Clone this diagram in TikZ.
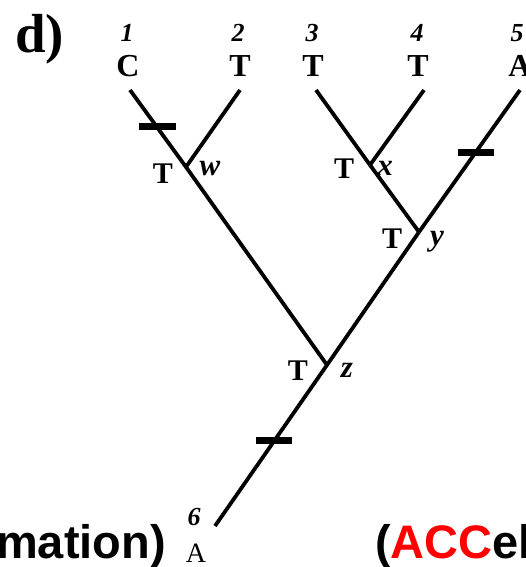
\documentclass[tikz,border=0pt]{standalone}
\usepackage{fontspec}
\setmainfont{Liberation Serif}
\newfontfamily\slidefont{Liberation Sans}
\usepackage{xcolor}
\usetikzlibrary{calc}

\begin{document}
\begin{tikzpicture}[x=1pt,y=-1pt,
	branch/.style={line width=3.8pt},
	tickbar/.style={line width=7pt},
	leafnum/.style={anchor=base,inner sep=0pt,font=\fontsize{26}{26}\selectfont\itshape\bfseries},
	leafstate/.style={anchor=base,inner sep=0pt,font=\fontsize{32}{32}\selectfont\bfseries},
	nodestate/.style={anchor=base,inner sep=0pt,font=\fontsize{30}{30}\selectfont\bfseries},
	nodename/.style={anchor=base,inner sep=0pt,font=\fontsize{31}{31}\selectfont\itshape\bfseries}]
	\clip (0,0) rectangle (526,567);
	
	% tips and internal nodes
	\coordinate (t1) at (130,90);
	\coordinate (t2) at (240,90);
	\coordinate (t3) at (316,90);
	\coordinate (t4) at (424,90);
	\coordinate (t5) at (520,90);
	\coordinate (t6) at (215,526);
	\coordinate (w) at (186,167);
	\coordinate (x) at (370,165);
	\coordinate (y) at (419,232);
	\coordinate (z) at (327,365);
	
	\draw[branch] (t1)--(w) (t2)--(w);
	\draw[branch] (t3)--(x) (t4)--(x);
	\draw[branch] (x)--(y) (t5)--(y);
	\draw[branch] (w)--(z) (y)--(z) (z)--(t6);
	
	% changes on branches
	\draw[tickbar] ($(t1)!0.48!(w)$) ++(-18,0) -- ++(37,0);
	\draw[tickbar] ($(t5)!0.437!(y)$) ++(-18,0) -- ++(36,0);
	\draw[tickbar] ($(z)!0.472!(t6)$) ++(-18,0) -- ++(36,0);
	
	% leaves
	\node[leafnum] (n1) at (127,42) {1};
	\node[leafnum] (n2) at (238,42) {2};
	\node[leafnum] (n3) at (312,42) {3};
	\node[leafnum] (n4) at (417,42) {4};
	\node[leafnum] (n5) at (517,42) {5};
	\node[leafstate] (s1) at (128,77) {C};
	\node[leafstate] (s2) at (240,77) {T};
	\node[leafstate] (s3) at (313,77) {T};
	\node[leafstate] (s4) at (418,77) {T};
	\node[leafstate] (s5) at (520,77) {A};
	\node[leafnum] (n6) at (194,525) {6};
	\node[anchor=base,inner sep=0pt,font=\fontsize{28}{28}\selectfont] (s6) at (196,562) {A};
	
	% ancestral states
	\node[nodestate] (sw) at (163,183) {T};
	\node[nodename] (lw) at (210,175) {w};
	\node[nodestate] (sx) at (344,178) {T};
	\node[nodename] (lx) at (385,175) {x};
	\node[nodestate] (sy) at (392,248) {T};
	\node[nodename] (ly) at (437,245) {y};
	\node[nodestate] (sz) at (298,380) {T};
	\node[nodename] (lz) at (347,377) {z};
	
	\node[anchor=base west,inner sep=0pt,font=\fontsize{55}{55}\selectfont\bfseries] (panel) at (15,53) {d)};
	
	\node[anchor=base east,inner sep=0pt,font=\fontsize{47}{47}\selectfont\slidefont\bfseries] (capl) at (166,558) {mation)};
	\node[anchor=base west,inner sep=0pt,font=\fontsize{47}{47}\selectfont\slidefont\bfseries] (capr) at (375,558) {(\textcolor{red}{ACC}el};
\end{tikzpicture}
\end{document}
